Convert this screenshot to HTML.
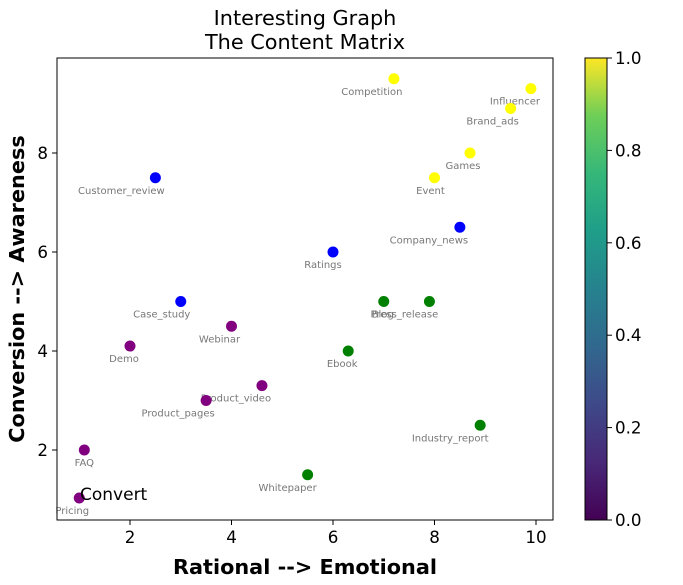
<!DOCTYPE html>
<html><head><meta charset="utf-8"><style>body{margin:0;background:#fff}svg{font-family:"DejaVu Sans","Liberation Sans",sans-serif}</style></head>
<body>
<svg id="c" width="683" height="580" xmlns="http://www.w3.org/2000/svg">
<defs><linearGradient id="vir" x1="0" y1="1" x2="0" y2="0">
<stop offset="0" stop-color="#440154"/><stop offset="0.125" stop-color="#482878"/><stop offset="0.25" stop-color="#3e4989"/><stop offset="0.375" stop-color="#31688e"/><stop offset="0.5" stop-color="#26828e"/><stop offset="0.625" stop-color="#1f9e89"/><stop offset="0.75" stop-color="#35b779"/><stop offset="0.875" stop-color="#6ece58"/><stop offset="1" stop-color="#fde725"/></linearGradient></defs>
<text x="305" y="25" font-size="20.8" text-anchor="middle">Interesting Graph</text>
<text x="305" y="49" font-size="20.8" text-anchor="middle">The Content Matrix</text>
<g id="plot"></g>
<rect x="57" y="58" width="496" height="462" fill="none" stroke="#000" stroke-width="1"/>
<text x="305" y="574" font-size="20.8" font-weight="bold" text-anchor="middle">Rational --&gt; Emotional</text>
<text transform="translate(24,289) rotate(-90)" font-size="20.8" font-weight="bold" text-anchor="middle">Conversion --&gt; Awareness</text>
<text x="80" y="500" font-size="17">Convert</text>
<rect x="585" y="58" width="22" height="462" fill="url(#vir)" stroke="#000" stroke-width="1"/>
<g id="cb"></g>
</svg>
<script>
const names=["Pricing","FAQ","Demo","Webinar","Product_video","Product_pages","Case_study","Customer_review","Ratings","Company_news","Ebook","Blog","Press_release","Whitepaper","Industry_report","Competition","Influencer","Brand_ads","Games","Event"];
const xs=[1.0,1.1,2.0,4.0,4.6,3.5,3.0,2.5,6.0,8.5,6.3,7.0,7.9,5.5,8.9,7.2,9.9,9.5,8.7,8.0];
const ys=[1.03,2.0,4.1,4.5,3.3,3.0,5.0,7.5,6.0,6.5,4.0,5.0,5.0,1.5,2.5,9.5,9.3,8.9,8.0,7.5];
const groups=["purple","purple","purple","purple","purple","purple","blue","blue","blue","blue","green","green","green","green","green","yellow","yellow","yellow","yellow","yellow"];
const xTicks=[2,4,6,8,10];
const yTicks=[2,4,6,8];
const cbTicks=["0.0","0.2","0.4","0.6","0.8","1.0"];
const lblDx=[-7,0,-6,-12,-26,-28,-19,-34,-10,-31,-6,-1,-25,-20,-30,-22,-16,-18,-7,-4];
const colors={purple:"#800080",blue:"#0000ff",green:"#008000",yellow:"#ffff00"};
const X=v=>28.5+v*50.75, Y=v=>549-v*49.5;
const NS="http://www.w3.org/2000/svg";
const plot=document.getElementById('plot');
function mk(t,a,p){const e=document.createElementNS(NS,t);for(const k in a)e.setAttribute(k,a[k]);(p||plot).appendChild(e);return e;}
xTicks.forEach(t=>{
 const l=mk('line',{x1:X(t),x2:X(t),y1:520,y2:525,stroke:'#000'});
 
 
 const tx=mk('text',{x:X(t),y:543,'font-size':16.7,'text-anchor':'middle'});tx.textContent=t;
 
 
});
yTicks.forEach(t=>{
 const l=mk('line',{x1:52,x2:57,y1:Y(t),y2:Y(t),stroke:'#000'});
 
 
 const tx=mk('text',{x:48,y:Y(t)+6,'font-size':16.7,'text-anchor':'end'});tx.textContent=t;
 
 
});
names.forEach((n,i)=>{
 const c=mk('circle',{cx:X(xs[i]),cy:Y(ys[i]),r:5.5,fill:colors[groups[i]]});
 
 
 const t=mk('text',{x:X(xs[i])+lblDx[i],y:Y(ys[i])+16,'font-size':10,fill:'#777','text-anchor':'middle'});t.textContent=n;
 
 
});
const cb=document.getElementById('cb');
cbTicks.forEach((t,i)=>{
 const y=520-i*462/5;
 const l=mk('line',{x1:607,x2:612,y1:y,y2:y,stroke:'#000'},cb);
 
 
 const tx=mk('text',{x:615,y:y+6,'font-size':16.7},cb);tx.textContent=t;
 
 
});
</script>
</body></html>
